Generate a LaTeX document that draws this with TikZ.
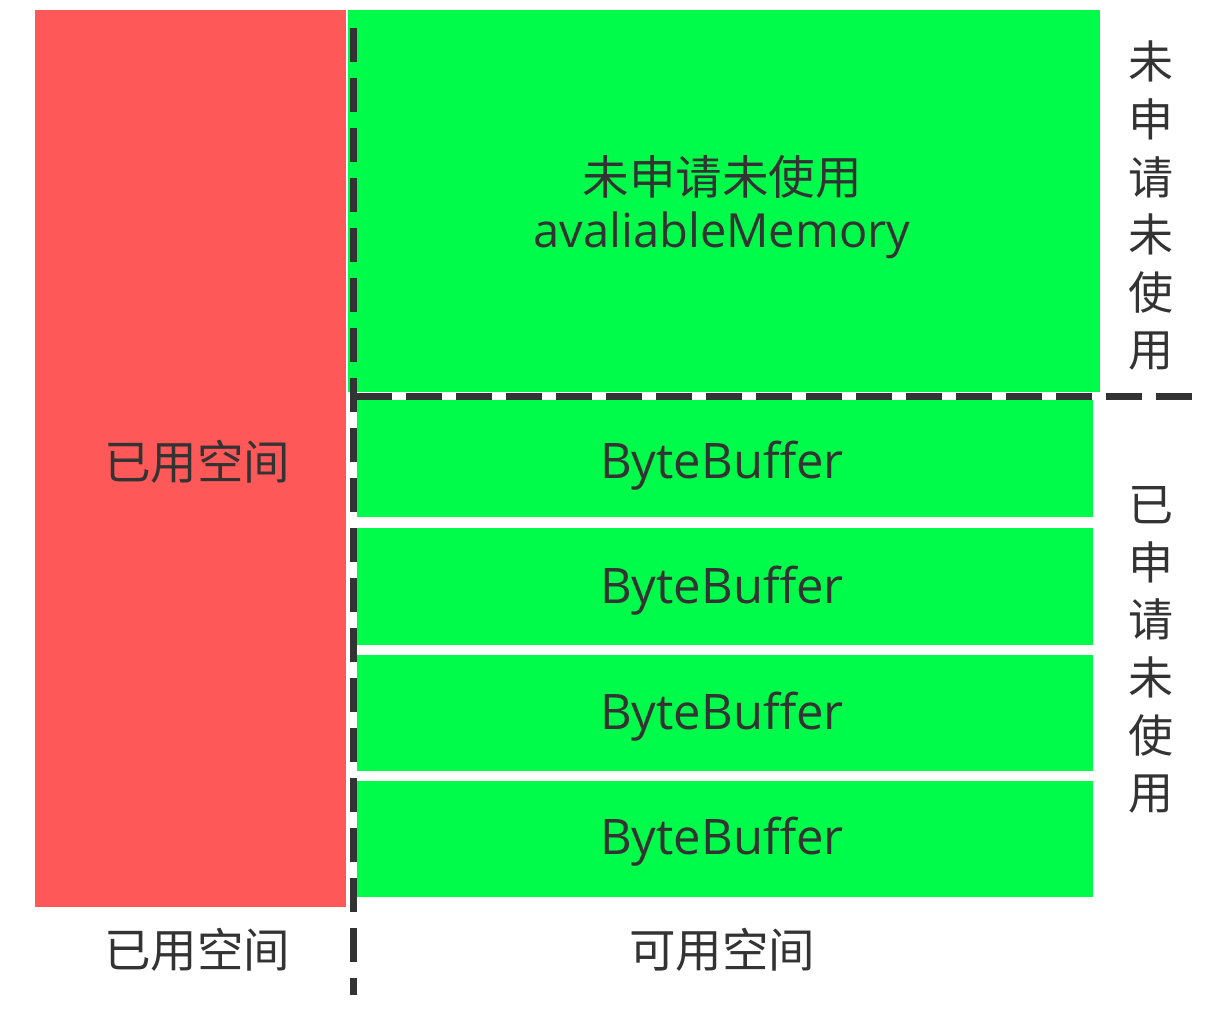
\documentclass[tikz,border=0pt]{standalone}
\usepackage{fontspec}
\setmainfont{Open Sans}
\newfontfamily\cjk{Noto Sans CJK SC}
\definecolor{usedred}{RGB}{255,88,88}
\definecolor{freegreen}{RGB}{0,252,74}
\definecolor{inkgray}{RGB}{51,51,51}
\tikzset{
  lbl/.style={text=inkgray, inner sep=0pt, font=\fontsize{49pt}{55pt}\selectfont},
  memlbl/.style={text=inkgray, inner sep=0pt, font=\fontsize{47pt}{55pt}\selectfont},
  cjklbl/.style={text=inkgray, inner sep=0pt, font=\cjk\fontsize{46.5pt}{55pt}\selectfont},
  vlbl/.style={text=inkgray, inner sep=0pt, align=center, font=\cjk\fontsize{45pt}{57.6pt}\selectfont},
  divider/.style={draw=inkgray, line width=7pt, dash pattern=on 34pt off 16pt},
}
\begin{document}
\begin{tikzpicture}[x=1pt, y=-1pt]
\useasboundingbox (0,0) rectangle (1222,1014);
% blocks
\fill[usedred] (35,10) rectangle (346,907);
\fill[freegreen] (348,10) rectangle (1100,392);
\fill[freegreen] (357,400) rectangle (1093,517);
\fill[freegreen] (357,528) rectangle (1093,645);
\fill[freegreen] (357,655) rectangle (1093,771);
\fill[freegreen] (357,781) rectangle (1093,897);
% dividers
\coordinate (vtop) at (353,28);
\coordinate (vbot) at (353,995);
\coordinate (hleft) at (356,396);
\coordinate (hright) at (1195,396);
\draw[divider] (vtop) -- (vbot);
\draw[divider, dash pattern=on 36pt off 14pt] (hleft) -- (hright);
% labels
\node[cjklbl] (used) at (197,462) {已用空间};
\node[cjklbl] (freecn) at (722,177) {未申请未使用};
\node[memlbl] (freeen) at (722,235) {avaliableMemory};
\node[lbl] (bb1) at (722,466) {ByteBuffer};
\node[lbl] (bb2) at (722,591) {ByteBuffer};
\node[lbl] (bb3) at (722,717) {ByteBuffer};
\node[lbl] (bb4) at (722,842) {ByteBuffer};
\node[cjklbl] (usedcap) at (197,950) {已用空间};
\node[cjklbl] (freecap) at (722,950) {可用空间};
\node[vlbl] (side1) at (1151,206) {未\\申\\请\\未\\使\\用};
\node[vlbl] (side2) at (1151,650) {已\\申\\请\\未\\使\\用};
\end{tikzpicture}
\end{document}
